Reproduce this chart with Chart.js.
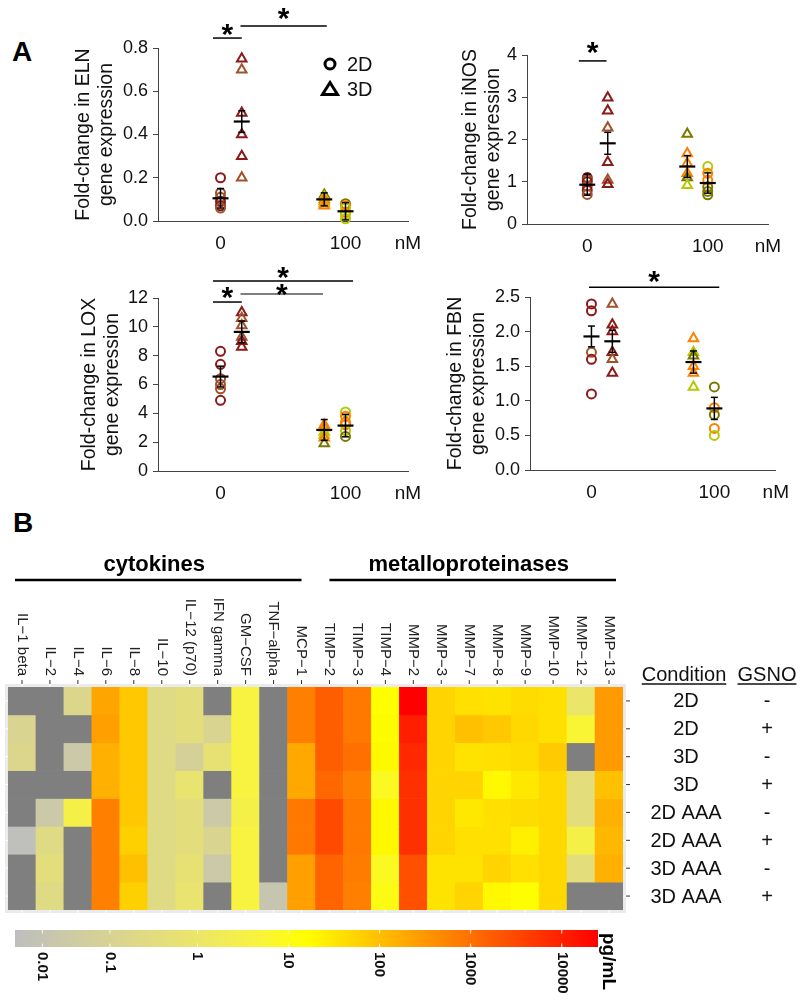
<!DOCTYPE html>
<html>
<head>
<meta charset="utf-8">
<script src="https://cdn.jsdelivr.net/npm/chart.js@4.4.0/dist/chart.umd.min.js"></script>
<style>
body { margin: 0; background: #fff; }
#fig { position: relative; width: 800px; height: 1003px; overflow: hidden; font-family: "Liberation Sans", Arial, sans-serif; }
#fig canvas { position: absolute; }
.lab { position: absolute; font-weight: bold; font-size: 28px; line-height: 1; color: #000; }
</style>
</head>
<body>
<div id="fig">
  <div class="lab" style="left:12px;top:38px">A</div>
  <div class="lab" style="left:13px;top:509px">B</div>
  <canvas id="eln" width="370" height="261" style="left:68px;top:0px"></canvas>
  <canvas id="inos" width="343" height="264" style="left:455px;top:0px"></canvas>
  <canvas id="lox" width="364" height="251" style="left:74px;top:260px"></canvas>
  <canvas id="fbn" width="360" height="248" style="left:440px;top:262px"></canvas>
  <canvas id="heat" width="800" height="390" style="left:0px;top:530px"></canvas>
  <canvas id="cbar" width="800" height="83" style="left:0px;top:920px"></canvas>
</div>
<script>
// ---- panel A data: groups are 2D@0, 3D@0, 3D@100, 2D@100 ----
const groupX = [0, 17, 83, 100];
const groupShape = ['circle', 'triangle', 'triangle', 'circle'];
const xTickVals = [0, 100, 150];
const palette = { dr: '#8B1A1A', br: '#A0522D', or: '#FF8000', yg: '#B8C800', ol: '#7A7A00' };

const elnVals = [[0.20, 0.13, 0.11, 0.09, 0.07, 0.06], [0.75, 0.70, 0.50, 0.40, 0.30, 0.20], [0.12, 0.11, 0.10, 0.09, 0.08, 0.07], [0.08, 0.07, 0.06, 0.04, 0.03, 0.01]];
const elnCols = [['dr', 'br', 'br', 'dr', 'dr', 'br'], ['dr', 'br', 'dr', 'dr', 'dr', 'br'], ['ol', 'yg', 'or', 'or', 'yg', 'or'], ['ol', 'or', 'yg', 'or', 'yg', 'yg']];
const elnMean = [0.105, 0.46, 0.10, 0.045];
const elnErr = [0.045, 0.05, 0.03, 0.04];

const inosVals = [[1.10, 1.05, 1.00, 0.90, 0.80, 0.70], [2.99, 2.68, 2.28, 1.46, 1.04, 0.94], [2.13, 1.67, 1.44, 1.20, 1.10, 0.92], [1.36, 1.20, 1.04, 0.88, 0.77, 0.69]];
const inosCols = [['dr', 'br', 'dr', 'br', 'dr', 'br'], ['dr', 'dr', 'br', 'dr', 'br', 'dr'], ['ol', 'or', 'or', 'or', 'ol', 'yg'], ['yg', 'or', 'or', 'ol', 'ol', 'ol']];
const inosMean = [0.93, 1.91, 1.36, 0.97];
const inosErr = [0.25, 0.26, 0.26, 0.24];

const loxVals = [[8.3, 7.4, 6.4, 6.0, 5.7, 4.9], [11.0, 10.6, 10.1, 9.3, 9.0, 8.6], [3.2, 3.0, 2.7, 2.5, 2.3, 1.9], [4.1, 3.8, 3.4, 3.2, 2.8, 2.4]];
const loxCols = [['dr', 'dr', 'br', 'br', 'br', 'dr'], ['dr', 'br', 'br', 'br', 'dr', 'dr'], ['or', 'or', 'yg', 'yg', 'or', 'ol'], ['yg', 'or', 'or', 'or', 'yg', 'ol']];
const loxMean = [6.55, 9.65, 2.85, 3.15];
const loxErr = [0.72, 0.75, 0.72, 0.78];

const fbnVals = [[2.40, 2.30, 1.70, 1.60, 1.10], [2.40, 2.10, 2.00, 1.70, 1.60, 1.40], [1.90, 1.70, 1.65, 1.50, 1.40, 1.20], [1.20, 0.90, 0.80, 0.60, 0.50]];
const fbnCols = [['dr', 'dr', 'br', 'dr', 'dr'], ['br', 'dr', 'dr', 'dr', 'br', 'dr'], ['or', 'yg', 'ol', 'or', 'or', 'yg'], ['ol', 'or', 'ol', 'or', 'yg']];
const fbnMean = [1.93, 1.86, 1.56, 0.89];
const fbnErr = [0.15, 0.16, 0.16, 0.16];

// ---- panel B data (pg/mL, null = not detected) ----
const genes = ['IL\u22121 beta', 'IL\u22122', 'IL\u22124', 'IL\u22126', 'IL\u22128', 'IL\u221210', 'IL\u221212 (p70)', 'IFN gamma', 'GM\u2212CSF', 'TNF\u2212alpha', 'MCP\u22121',
  'TIMP\u22122', 'TIMP\u22123', 'TIMP\u22124', 'MMP\u22122', 'MMP\u22123', 'MMP\u22127', 'MMP\u22128', 'MMP\u22129', 'MMP\u221210', 'MMP\u221212', 'MMP\u221213'];
const conditions = ['2D', '2D', '3D', '3D', '2D AAA', '2D AAA', '3D AAA', '3D AAA'];
const gsno = ['-', '+', '-', '+', '-', '+', '-', '+'];
const heat = [
  [null, null, 0.15, 215, 78, 0.24, 0.37, null, 4.2, null, 620, 1670, 780, 16, 25000, 54, 39, 36, 44, 39, 0.95, 295],
  [0.117, null, null, 245, 78, 0.24, 0.37, 0.117, 4.2, null, 620, 1670, 780, 17, 10500, 54, 98, 78, 49, 39, 5.7, 295],
  [0.148, null, 0.024, 155, 78, 0.24, 0.07, 0.59, 4.2, null, 195, 1670, 980, 19, 7950, 54, 35, 39, 44, 70, null, 295],
  [null, null, null, 155, 78, 0.24, 0.73, null, 4.2, null, 195, 1240, 620, 8.3, 6300, 54, 54, 19.5, 31, 49, 0.37, 98],
  [null, 0.024, 3.2, 620, 78, 0.24, 0.37, 0.024, 3.2, null, 780, 2970, 780, 19.5, 6300, 54, 31, 39, 44, 49, 0.37, 155],
  [0.0012, 0.24, null, 620, 62, 0.236, 0.37, 0.117, 4.2, null, 780, 2970, 780, 19.5, 6300, 54, 39, 39, 24.5, 49, 3.2, 123],
  [null, 0.37, null, 620, 98, 0.24, 0.59, 0.024, 4.2, null, 245, 1390, 700, 8.3, 2500, 35, 35, 54, 39, 49, 0.37, 155],
  [null, 0.24, null, 620, 62, 0.24, 0.73, null, 4.2, 0.0117, 245, 1390, 620, 10.7, 2500, 35, 54, 19.5, 15.8, 49, null, null]
];
const cbarTicks = [0.01, 0.1, 1, 10, 100, 1000, 10000];
const cbarMax = 25000;

// ---- colour scale: log10(v + 0.01), grey -> yellow -> red ----
const LMIN = Math.log10(0.01), LMAX = Math.log10(cbarMax + 0.01);
const rampStops = [[0, [190, 190, 190]], [0.15, [214, 209, 150]], [0.3, [234, 228, 110]], [0.42, [248, 244, 60]], [0.5, [255, 255, 0]], [1, [255, 0, 0]]];
const toT = v => Math.log10(v + 0.01);
function rampColor(t) {
  t = Math.max(0, Math.min(1, t));
  for (let i = 1; i < rampStops.length; i++) {
    if (t <= rampStops[i][0]) {
      const [t0, c0] = rampStops[i - 1], [t1, c1] = rampStops[i];
      const f = (t - t0) / (t1 - t0);
      return 'rgb(' + c0.map((c, k) => Math.round(c + (c1[k] - c) * f)).join(',') + ')';
    }
  }
  return 'rgb(255,0,0)';
}
const cmap = v => v === null ? '#7F7F7F' : rampColor((toT(v) - LMIN) / (LMAX - LMIN));

Chart.defaults.font.family = '"Liberation Sans", Arial, sans-serif';
Chart.defaults.color = '#111';

const panelCfg = {
  eln: { mean: elnMean, err: elnErr, legend: true,
    sig: [{ x1: -6, x2: 17, y: 0.846, dy: 8 }, { x1: 16, x2: 85, y: 0.902, dy: 12 }] },
  inos: { mean: inosMean, err: inosErr, sig: [{ x1: -7, x2: 16, y: 3.86, dy: 13 }] },
  lox: { mean: loxMean, err: loxErr,
    sig: [{ x1: -6, x2: 106, y: 13.18, dy: 8 }, { x1: 16, x2: 82, y: 12.28, dy: 4, color: '#555' }, { x1: -6, x2: 17, y: 11.72, dy: 9 }] },
  fbn: { mean: fbnMean, err: fbnErr, sig: [{ x1: -2, x2: 104, y: 2.64, dy: 10 }] }
};

function seg(ctx, x1, y1, x2, y2) { ctx.beginPath(); ctx.moveTo(x1, y1); ctx.lineTo(x2, y2); ctx.stroke(); }

function drawStar(ctx, cx, cy) {
  ctx.font = 'bold 30px "Liberation Sans", Arial, sans-serif';
  ctx.fillStyle = '#000';
  ctx.textAlign = 'center';
  ctx.textBaseline = 'alphabetic';
  const m = ctx.measureText('*');
  ctx.fillText('*', cx, cy + (m.actualBoundingBoxAscent - m.actualBoundingBoxDescent) / 2);
}

const panelExtras = {
  id: 'panelExtras',
  afterDatasetsDraw(chart) {
    const p = panelCfg[chart.canvas.id];
    const { ctx, chartArea: a, scales: { x, y } } = chart;
    ctx.save();
    ctx.strokeStyle = '#000';
    p.mean.forEach((m, g) => {
      const px = x.getPixelForValue(groupX[g]);
      const hi = y.getPixelForValue(m + p.err[g]), lo = y.getPixelForValue(m - p.err[g]);
      ctx.lineWidth = 1.5;
      seg(ctx, px, hi, px, lo);
      seg(ctx, px - 3.5, hi, px + 3.5, hi);
      seg(ctx, px - 3.5, lo, px + 3.5, lo);
      ctx.lineWidth = 2.2;
      const py = y.getPixelForValue(m);
      seg(ctx, px - 8, py, px + 8, py);
    });
    p.sig.forEach(s => {
      const yy = y.getPixelForValue(s.y);
      ctx.strokeStyle = s.color || '#000';
      ctx.lineWidth = 1.5;
      seg(ctx, x.getPixelForValue(s.x1), yy, x.getPixelForValue(s.x2), yy);
      drawStar(ctx, x.getPixelForValue((s.x1 + s.x2) / 2), yy - s.dy);
    });
    if (p.legend) {
      const lx = a.left + 172;
      const ly = [a.top + 16, a.top + 41];
      ctx.strokeStyle = '#000';
      ctx.lineWidth = 3;
      ctx.beginPath(); ctx.arc(lx, ly[0], 5, 0, Math.PI * 2); ctx.stroke();
      ctx.beginPath();
      ctx.moveTo(lx, ly[1] - 6.5); ctx.lineTo(lx + 7.5, ly[1] + 5.5); ctx.lineTo(lx - 7.5, ly[1] + 5.5); ctx.closePath();
      ctx.stroke();
      ctx.fillStyle = '#111';
      ctx.font = '20px "Liberation Sans", Arial, sans-serif';
      ctx.textAlign = 'left';
      ctx.textBaseline = 'middle';
      ctx.fillText('2D', lx + 17, ly[0] + 1);
      ctx.fillText('3D', lx + 17, ly[1] + 1);
    }
    ctx.restore();
  }
};

function makePanel(id, p) {
  const datasets = p.vals.map((vals, g) => ({
    data: vals.map(v => ({ x: groupX[g], y: v })),
    pointStyle: groupShape[g],
    pointRadius: groupShape[g] === 'circle' ? 4.5 : 5.5,
    pointBorderWidth: 2,
    pointBackgroundColor: 'rgba(0,0,0,0)',
    pointBorderColor: p.cols[g].map(c => palette[c]),
    clip: false
  }));
  return new Chart(document.getElementById(id), {
    type: 'scatter',
    data: { datasets },
    options: {
      responsive: false,
      animation: false,
      events: [],
      layout: { padding: { left: 0, top: p.padTop, right: p.padRight, bottom: 0 } },
      plugins: { legend: { display: false }, tooltip: { enabled: false } },
      scales: {
        x: {
          type: 'linear', min: -50, max: 150,
          afterBuildTicks: s => { s.ticks = xTickVals.map(v => ({ value: v })); },
          afterFit: s => { s.height = 40; },
          grid: { display: false, drawTicks: false },
          border: { color: '#444' },
          ticks: { autoSkip: false, maxRotation: 0, padding: 11, font: { size: 19 }, callback: v => v === 150 ? 'nM' : String(v) }
        },
        y: {
          min: 0, max: p.ymax,
          afterFit: s => { s.width = p.yw; },
          grid: { drawOnChartArea: false, tickLength: 5, color: '#444' },
          border: { color: '#444' },
          ticks: { stepSize: p.step, padding: 5, font: { size: 18 }, callback: v => v.toFixed(p.dec) },
          title: { display: true, text: p.title, font: { size: 19.5, lineHeight: 1.18 }, padding: { top: 4, bottom: 0 } }
        }
      }
    },
    plugins: [panelExtras]
  });
}

makePanel('eln', { vals: elnVals, cols: elnCols, ymax: 0.8, step: 0.2, dec: 1, yw: 90, padTop: 48, padRight: 30, title: ['Fold-change in ELN', 'gene expression'] });
makePanel('inos', { vals: inosVals, cols: inosCols, ymax: 4, step: 1, dec: 0, yw: 72, padTop: 55, padRight: 30, title: ['Fold-change in iNOS', 'gene expression'] });
makePanel('lox', { vals: loxVals, cols: loxCols, ymax: 12, step: 2, dec: 0, yw: 84, padTop: 38, padRight: 30, title: ['Fold-change in LOX', 'gene expression'] });
makePanel('fbn', { vals: fbnVals, cols: fbnCols, ymax: 2.5, step: 0.5, dec: 1, yw: 90, padTop: 35, padRight: 22, title: ['Fold-change in FBN', 'gene expression'] });

// ---- heatmap ----
const groupHeads = [{ text: 'cytokines', from: -0.25, to: 10 }, { text: 'metalloproteinases', from: 11, to: 21.25 }];

const heatExtras = {
  id: 'heatExtras',
  beforeDatasetsDraw(chart) {
    const { ctx, chartArea: a, scales: { x, y } } = chart;
    ctx.save();
    ctx.fillStyle = '#EBEBEB';
    ctx.fillRect(a.left - 3, a.top - 3, a.width + 6, a.height + 6);
    ctx.strokeStyle = '#fff';
    ctx.lineWidth = 1;
    genes.forEach((g, i) => { const px = x.getPixelForValue(i); seg(ctx, px, a.top - 3, px, a.bottom + 3); });
    conditions.forEach((c, r) => { const py = y.getPixelForValue(r + 0.5); seg(ctx, a.left - 3, py, a.right + 3, py); });
    ctx.restore();
  },
  afterDatasetsDraw(chart) {
    const { ctx, chartArea: a, scales: { x, y } } = chart;
    ctx.save();
    // column labels, reading downwards
    ctx.strokeStyle = '#333';
    ctx.lineWidth = 1;
    ctx.fillStyle = '#222';
    ctx.font = '15px "Liberation Sans", Arial, sans-serif';
    genes.forEach((g, i) => {
      const px = x.getPixelForValue(i);
      seg(ctx, px, a.top - 7, px, a.top - 3);
      ctx.save();
      ctx.translate(px, a.top - 11);
      ctx.rotate(Math.PI / 2);
      ctx.textAlign = 'right';
      ctx.textBaseline = 'middle';
      ctx.fillText(g, 0, 0);
      ctx.restore();
    });
    // group headers
    ctx.fillStyle = '#000';
    ctx.strokeStyle = '#000';
    ctx.lineWidth = 2.5;
    ctx.font = 'bold 22px "Liberation Sans", Arial, sans-serif';
    ctx.textAlign = 'center';
    ctx.textBaseline = 'alphabetic';
    groupHeads.forEach(h => {
      const x1 = x.getPixelForValue(h.from), x2 = x.getPixelForValue(h.to);
      seg(ctx, x1, a.top - 107, x2, a.top - 107);
      ctx.fillText(h.text, (x1 + x2) / 2 - 4, a.top - 116);
    });
    // row labels on the right
    ctx.strokeStyle = '#333';
    ctx.lineWidth = 1;
    ctx.fillStyle = '#111';
    ctx.font = '20px "Liberation Sans", Arial, sans-serif';
    ctx.textBaseline = 'middle';
    const cx1 = a.right + 63, cx2 = a.right + 144;
    conditions.forEach((c, r) => {
      const py = y.getPixelForValue(r + 0.5);
      seg(ctx, a.right + 3, py, a.right + 7, py);
      ctx.fillText(c, cx1, py + 1);
      ctx.fillText(gsno[r], cx2, py + 1);
    });
    ctx.textBaseline = 'alphabetic';
    [['Condition', cx1 - 2], ['GSNO', cx2]].forEach(([t, cx]) => {
      ctx.fillText(t, cx, a.top - 6);
      const w = ctx.measureText(t).width;
      ctx.strokeStyle = '#111';
      ctx.lineWidth = 1.3;
      seg(ctx, cx - w / 2, a.top - 3, cx + w / 2, a.top - 3);
    });
    ctx.restore();
  }
};

new Chart(document.getElementById('heat'), {
  type: 'bar',
  data: {
    labels: genes,
    datasets: heat.map((row, r) => ({
      label: conditions[r] + ' ' + gsno[r],
      data: row.map(() => 1),
      backgroundColor: row.map(cmap),
      borderWidth: 0,
      barPercentage: 1,
      categoryPercentage: 1
    }))
  },
  options: {
    responsive: false,
    animation: false,
    events: [],
    layout: { padding: { left: 8, top: 157, right: 177, bottom: 10 } },
    plugins: { legend: { display: false }, tooltip: { enabled: false } },
    scales: {
      x: { stacked: true, display: false },
      y: { stacked: true, display: false, min: 0, max: conditions.length, reverse: true }
    }
  },
  plugins: [heatExtras]
});

// ---- colour bar ----
const cbarExtras = {
  id: 'cbarExtras',
  afterDatasetsDraw(chart) {
    const { ctx, chartArea: a, scales: { x } } = chart;
    ctx.save();
    ctx.strokeStyle = 'rgba(255,255,255,0.9)';
    ctx.lineWidth = 1;
    ctx.fillStyle = '#111';
    ctx.font = 'bold 15px "Liberation Sans", Arial, sans-serif';
    cbarTicks.forEach(v => {
      const px = x.getPixelForValue(toT(v));
      seg(ctx, px, a.top, px, a.top + 3.5);
      seg(ctx, px, a.bottom - 3.5, px, a.bottom);
      ctx.save();
      ctx.translate(px, a.bottom + 5);
      ctx.rotate(Math.PI / 2);
      ctx.textAlign = 'left';
      ctx.textBaseline = 'middle';
      ctx.fillText(String(v), 0, 0);
      ctx.restore();
    });
    ctx.save();
    ctx.fillStyle = '#000';
    ctx.font = 'bold 19px "Liberation Sans", Arial, sans-serif';
    ctx.translate(a.right + 10, a.top + 3);
    ctx.rotate(Math.PI / 2);
    ctx.textAlign = 'left';
    ctx.textBaseline = 'middle';
    ctx.fillText('pg/mL', 0, 0);
    ctx.restore();
    ctx.restore();
  }
};

new Chart(document.getElementById('cbar'), {
  type: 'bar',
  data: {
    labels: ['pg/mL'],
    datasets: [{
      data: [[LMIN, LMAX]],
      backgroundColor: c => {
        const area = c.chart.chartArea;
        if (!area) return '#ccc';
        const g = c.chart.ctx.createLinearGradient(area.left, 0, area.right, 0);
        for (let i = 0; i <= 40; i++) g.addColorStop(i / 40, rampColor(i / 40));
        return g;
      },
      borderWidth: 0,
      barPercentage: 1,
      categoryPercentage: 1
    }]
  },
  options: {
    indexAxis: 'y',
    responsive: false,
    animation: false,
    events: [],
    layout: { padding: { left: 15, top: 10, right: 202, bottom: 56 } },
    plugins: { legend: { display: false }, tooltip: { enabled: false } },
    scales: {
      x: { type: 'linear', min: LMIN, max: LMAX, display: false },
      y: { display: false }
    }
  },
  plugins: [cbarExtras]
});
</script>
</body>
</html>
